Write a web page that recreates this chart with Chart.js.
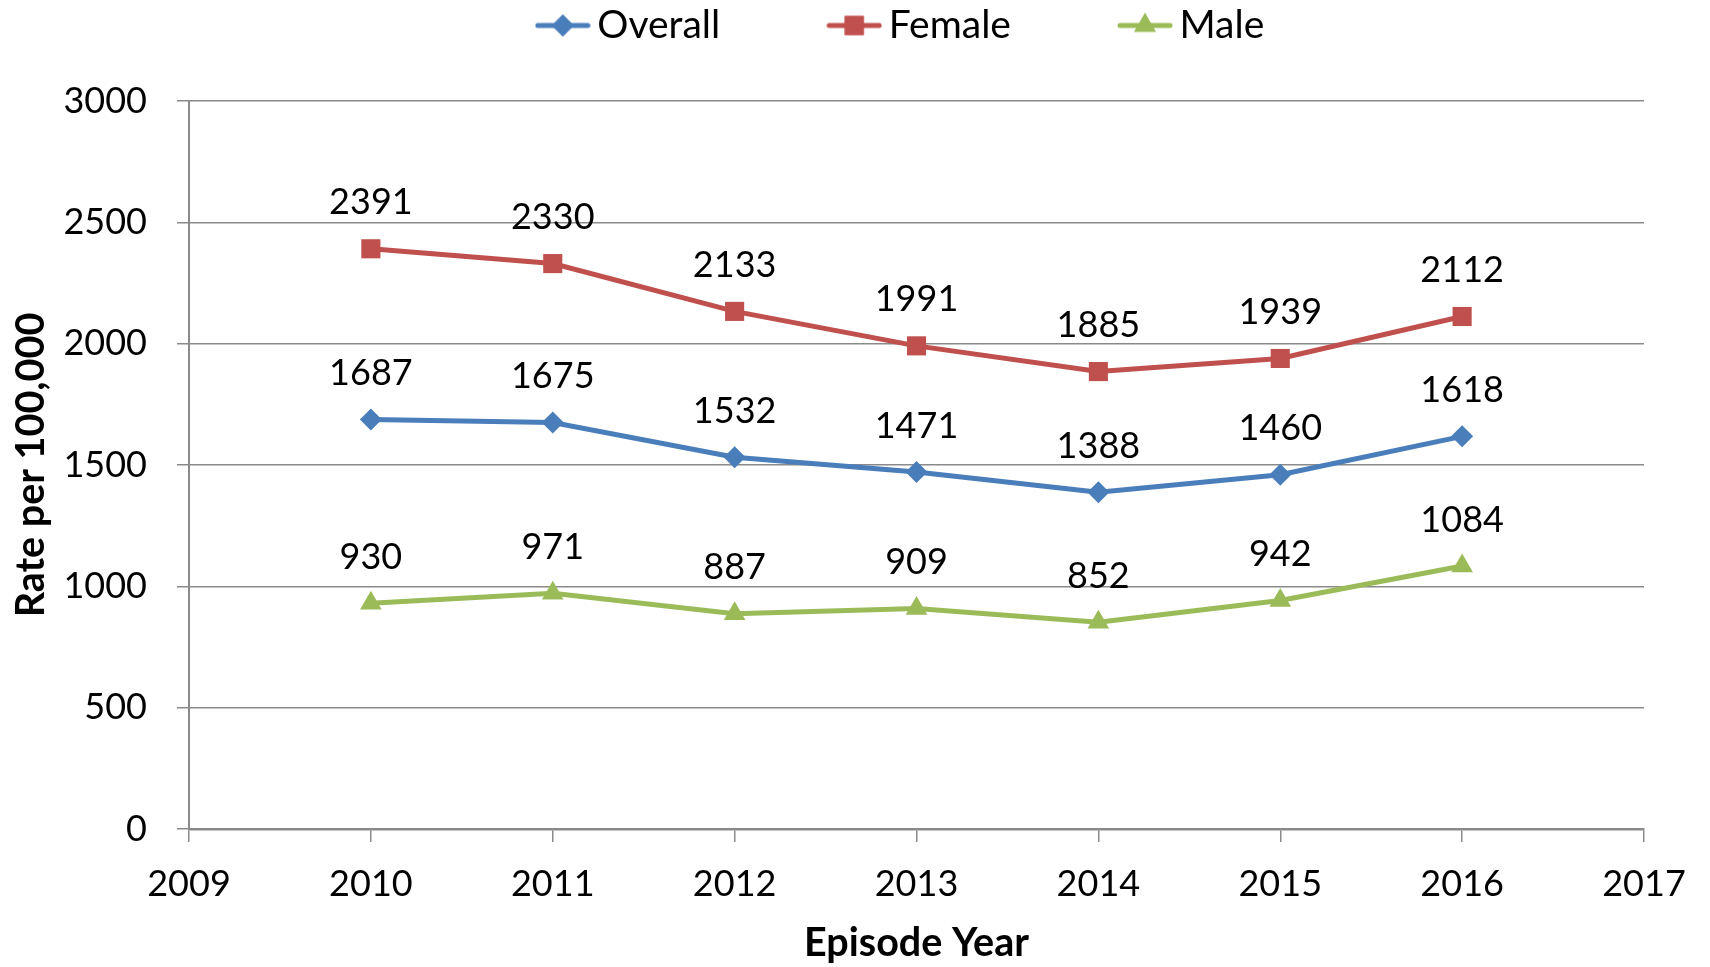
<!DOCTYPE html>
<html>
<head>
<meta charset="utf-8">
<script src="https://cdn.jsdelivr.net/npm/chart.js@4.4.1/dist/chart.umd.min.js"></script>
<style>
  html, body { margin: 0; padding: 0; background: #fff; }
  #wrap { width: 1710px; height: 967px; }
</style>
</head>
<body>
<div id="wrap"><canvas id="chart" width="1710" height="967"></canvas></div>
<script>
// Chart data
const years = [2010, 2011, 2012, 2013, 2014, 2015, 2016];
const overall = [1687, 1675, 1532, 1471, 1388, 1460, 1618];
const female = [2391, 2330, 2133, 1991, 1885, 1939, 2112];
const male = [930, 971, 887, 909, 852, 942, 1084];
const yTicks = [0, 500, 1000, 1500, 2000, 2500, 3000];
const xTicks = [2009, 2010, 2011, 2012, 2013, 2014, 2015, 2016, 2017];

const FONT = 'Lato';
const GRID = '#8a8a8a';

const series = [
    { label: 'Overall', values: overall, color: '#4a7ebb', style: 'rectRot', radius: 11 },
    { label: 'Female', values: female, color: '#c0504d', style: 'rect', radius: 13.5 },
    { label: 'Male', values: male, color: '#9bbb59', style: 'triangle', radius: 12.5 }
];

// legend swatch: line with marker in the middle
function swatch(s) {
    const c = document.createElement('canvas');
    c.width = 56; c.height = 28;
    const ctx = c.getContext('2d');
    ctx.strokeStyle = s.color;
    ctx.lineWidth = 5;
    ctx.lineCap = 'round';
    ctx.beginPath(); ctx.moveTo(3, 14); ctx.lineTo(53, 14); ctx.stroke();
    ctx.fillStyle = s.color;
    ctx.beginPath();
    Chart.helpers.drawPoint(ctx, { pointStyle: s.style, radius: s.radius, rotation: 0, borderWidth: 0 }, 28, 14);
    ctx.fill();
    return c;
}

// value labels above every point
const valueLabels = {
    id: 'valueLabels',
    afterDatasetsDraw(chart) {
        const ctx = chart.ctx;
        ctx.save();
        ctx.font = '36px ' + FONT;
        ctx.fillStyle = '#000';
        ctx.textAlign = 'center';
        ctx.textBaseline = 'middle';
        chart.data.datasets.forEach((ds, i) => {
            chart.getDatasetMeta(i).data.forEach((pt, j) => {
                ctx.fillText(String(ds.data[j].y), pt.x, pt.y - 46);
            });
        });
        ctx.restore();
    }
};

// fixed legend height / position
const legendPlace = {
    id: 'legendPlace',
    beforeLayout(chart) {
        const L = chart.legend;
        if (L && !L._patched) {
            const fit = L.fit;
            L.fit = function () { fit.call(this); this.height = 101; };
            L._patched = true;
        }
    },
    afterLayout(chart) {
        const L = chart.legend;
        const pad = L.options.labels.padding;
        L.left += 84; L.right += 84;
        L.top = 6 - pad; L.bottom = chart.chartArea.top;
    }
};

new Chart(document.getElementById('chart'), {
    type: 'line',
    data: {
        datasets: series.map(s => ({
            label: s.label,
            data: years.map((y, i) => ({ x: y, y: s.values[i] })),
            borderColor: s.color,
            backgroundColor: s.color,
            borderWidth: 5,
            pointStyle: s.style,
            pointRadius: s.radius,
            pointBorderWidth: 0,
            pointBackgroundColor: s.color,
            tension: 0,
            fill: false
        }))
    },
    options: {
        responsive: false,
        animation: false,
        layout: { padding: { left: 0, right: 66, top: 0, bottom: 0 } },
        plugins: {
            tooltip: { enabled: false },
            legend: {
                position: 'top',
                labels: {
                    font: { family: FONT, size: 39 },
                    color: '#000',
                    usePointStyle: true,
                    pointStyleWidth: 30,
                    padding: 119,
                    generateLabels(chart) {
                        return series.map((s, i) => ({
                            text: s.label,
                            pointStyle: swatch(s),
                            fillStyle: s.color,
                            strokeStyle: s.color,
                            lineWidth: 0,
                            fontColor: '#000',
                            datasetIndex: i,
                            hidden: false
                        }));
                    }
                }
            }
        },
        scales: {
            x: {
                type: 'linear',
                min: xTicks[0],
                max: xTicks[xTicks.length - 1],
                afterBuildTicks(scale) { scale.ticks = xTicks.map(v => ({ value: v })); },
                afterFit(scale) { scale.height = 138; },
                ticks: {
                    font: { family: FONT, size: 36 },
                    color: '#000',
                    padding: 21,
                    autoSkip: false,
                    maxRotation: 0,
                    callback: v => String(v)
                },
                grid: { drawOnChartArea: false, drawTicks: true, tickLength: 13, color: GRID, lineWidth: 1.5 },
                border: { display: true, color: GRID, width: 2.5 },
                title: {
                    display: true,
                    text: 'Episode Year',
                    font: { family: FONT, size: 39.5, weight: 'bold' },
                    color: '#000',
                    padding: 0
                }
            },
            y: {
                min: 0,
                max: 3000,
                afterBuildTicks(scale) { scale.ticks = yTicks.map(v => ({ value: v })); },
                afterFit(scale) { scale.width = 189; },
                ticks: {
                    font: { family: FONT, size: 36 },
                    color: '#000',
                    padding: 30,
                    callback: v => String(v)
                },
                grid: { color: GRID, lineWidth: 1.5, tickLength: 12, drawTicks: true },
                border: { display: true, color: GRID, width: 2 },
                title: {
                    display: true,
                    text: 'Rate per 100,000',
                    font: { family: FONT, size: 39.5, weight: 'bold' },
                    color: '#000',
                    padding: { top: 8, bottom: 0 }
                }
            }
        }
    },
    plugins: [valueLabels, legendPlace]
});
</script>
</body>
</html>
